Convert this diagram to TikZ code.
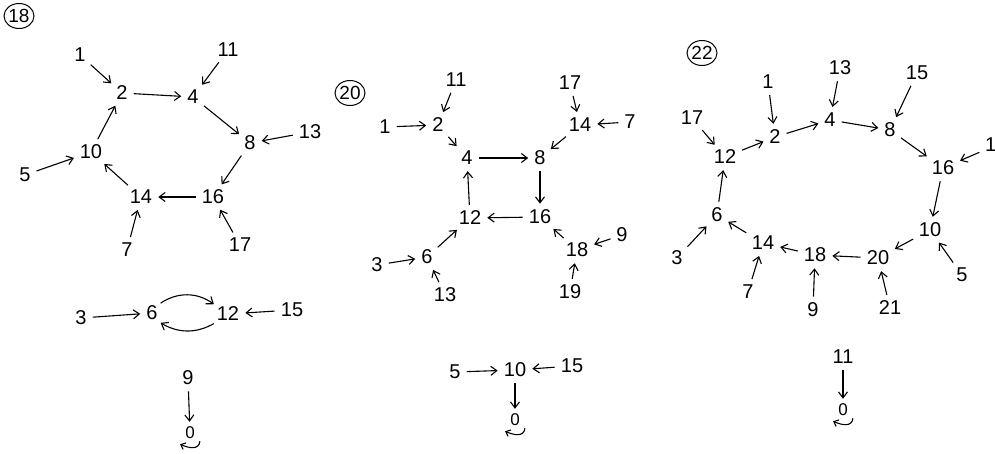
\documentclass[tikz,border=0pt]{standalone}
\usepackage{fontspec}
\setmainfont{Liberation Sans}
\usetikzlibrary{arrows.meta,shapes.geometric}
\tikzset{
  num/.style={inner sep=2pt, font=\fontsize{20}{24}\selectfont},
  zero/.style={inner sep=1pt, font=\fontsize{17}{20}\selectfont},
  tag/.style={draw, ellipse, line width=1pt, inner sep=0pt, minimum width=30pt, minimum height=25pt, font=\fontsize{19}{22}\selectfont},
  arr/.style={line width=1.1pt, -{Straight Barb[length=6pt,width=9pt]}, shorten >=4pt, shorten <=4pt},
  loopy/.style={line width=1.1pt, -{Straight Barb[length=4pt,width=7pt]}}
}
% a fixed point: small curved arrow hooked under the node
\newcommand{\fixloop}[1]{%
  \draw[loopy] ([shift={(4,1)}]#1.south east) .. controls +(-1,9) and +(9,4) .. ([shift={(-4,4)}]#1.south west);}
\begin{document}
\begin{tikzpicture}[x=1pt,y=-1pt]
\useasboundingbox (0,0) rectangle (995,453);

% ---------- n = 18 ----------
\node[tag] (t18) at (19,16) {18};
\node[num] (a1)  at (80,55)   {1};
\node[num] (a2)  at (122,93)  {2};
\node[num] (a4)  at (193,97)  {4};
\node[num] (a11) at (228,50)  {11};
\node[num] (a8)  at (250,143) {8};
\node[num] (a13) at (310,132) {13};
\node[num] (a10) at (91,152)  {10};
\node[num] (a5)  at (25,175)  {5};
\node[num] (a14) at (141,197) {14};
\node[num] (a16) at (213,197) {16};
\node[num] (a7)  at (127,250) {7};
\node[num] (a17) at (240,245) {17};
\draw[arr] (a1) -- (a2);
\draw[arr] (a2) -- (a4);
\draw[arr] (a11) -- (a4);
\draw[arr] (a4) -- (a8);
\draw[arr] (a13) -- (a8);
\draw[arr] (a8) -- (a16);
\draw[arr] (a16) -- (a14);
\draw[arr] (a14) -- (a10);
\draw[arr] (a10) -- (a2);
\draw[arr] (a5) -- (a10);
\draw[arr] (a7) -- (a14);
\draw[arr] (a17) -- (a16);

\node[num] (b3)  at (81,318)  {3};
\node[num] (b6)  at (152,313) {6};
\node[num] (b12) at (228,314) {12};
\node[num] (b15) at (292,310) {15};
\node[num] (b9)  at (188,378) {9};
\node[zero] (b0) at (190,433) {0};
\draw[arr] (b3) -- (b6);
\draw[arr, shorten <=1pt, shorten >=1pt] (b6.north east) to[bend left=35] (b12.north west);
\draw[arr, shorten <=1pt, shorten >=1pt] (b12.south west) to[bend left=30] (b6.south east);
\draw[arr] (b15) -- (b12);
\draw[arr] (b9) -- (b0);
\fixloop{b0}

% ---------- n = 20 ----------
\node[tag] (t20) at (350,93) {20};
\node[num] (c11) at (456,80)  {11};
\node[num] (c2)  at (438,125) {2};
\node[num] (c1)  at (385,127) {1};
\node[num] (c4)  at (467,158) {4};
\node[num] (c8)  at (540,158) {8};
\node[num] (c17) at (570,83)  {17};
\node[num] (c14) at (580,125) {14};
\node[num] (c7)  at (630,122) {7};
\node[num] (c12) at (470,218) {12};
\node[num] (c16) at (540,217) {16};
\node[num] (c18) at (577,250) {18};
\node[num] (c9)  at (622,235) {9};
\node[num] (c19) at (570,292) {19};
\node[num] (c6)  at (427,257) {6};
\node[num] (c3)  at (377,265) {3};
\node[num] (c13) at (445,295) {13};
\draw[arr] (c11) -- (c2);
\draw[arr] (c1) -- (c2);
\draw[arr] (c2) -- (c4);
\draw[arr] (c4) -- (c8);
\draw[arr] (c17) -- (c14);
\draw[arr] (c7) -- (c14);
\draw[arr] (c14) -- (c8);
\draw[arr] (c8) -- (c16);
\draw[arr] (c16) -- (c12);
\draw[arr] (c12) -- (c4);
\draw[arr] (c6) -- (c12);
\draw[arr] (c3) -- (c6);
\draw[arr] (c13) -- (c6);
\draw[arr] (c18) -- (c16);
\draw[arr] (c9) -- (c18);
\draw[arr] (c19) -- (c18);

\node[num] (d5)  at (455,372) {5};
\node[num] (d10) at (515,370) {10};
\node[num] (d15) at (572,366) {15};
\node[zero] (d0) at (515,420) {0};
\draw[arr] (d5) -- (d10);
\draw[arr] (d15) -- (d10);
\draw[arr] (d10) -- (d0);
\fixloop{d0}

% ---------- n = 22 ----------
\node[tag] (t22) at (702,53) {22};
\node[num] (e1)  at (768,82)  {1};
\node[num] (e13) at (840,68)  {13};
\node[num] (e15) at (917,73)  {15};
\node[num] (e17) at (692,118) {17};
\node[num] (e2)  at (775,137) {2};
\node[num] (e4)  at (830,120) {4};
\node[num] (e8)  at (890,130) {8};
\node[num] (e12) at (725,157) {12};
\node[num] (e16) at (943,168) {16};
\node[num,anchor=west] (e19) at (983,145) {19};
\node[num] (e6)  at (717,215) {6};
\node[num] (e10) at (930,230) {10};
\node[num] (e3)  at (677,258) {3};
\node[num] (e14) at (763,243) {14};
\node[num] (e18) at (815,255) {18};
\node[num] (e20) at (878,258) {20};
\node[num] (e5)  at (962,275) {5};
\node[num] (e7)  at (748,292) {7};
\node[num] (e9)  at (813,310) {9};
\node[num] (e21) at (890,308) {21};
\draw[arr] (e1) -- (e2);
\draw[arr] (e17) -- (e12);
\draw[arr] (e12) -- (e2);
\draw[arr] (e2) -- (e4);
\draw[arr] (e13) -- (e4);
\draw[arr] (e4) -- (e8);
\draw[arr] (e15) -- (e8);
\draw[arr] (e8) -- (e16);
\draw[arr] (e19) -- (e16);
\draw[arr] (e16) -- (e10);
\draw[arr] (e10) -- (e20);
\draw[arr] (e5) -- (e10);
\draw[arr] (e20) -- (e18);
\draw[arr] (e21) -- (e20);
\draw[arr] (e18) -- (e14);
\draw[arr] (e9) -- (e18);
\draw[arr] (e14) -- (e6);
\draw[arr] (e7) -- (e14);
\draw[arr] (e3) -- (e6);
\draw[arr] (e6) -- (e12);

\node[num] (f11) at (843,357) {11};
\node[zero] (f0) at (843,410) {0};
\draw[arr] (f11) -- (f0);
\fixloop{f0}
\end{tikzpicture}
\end{document}
